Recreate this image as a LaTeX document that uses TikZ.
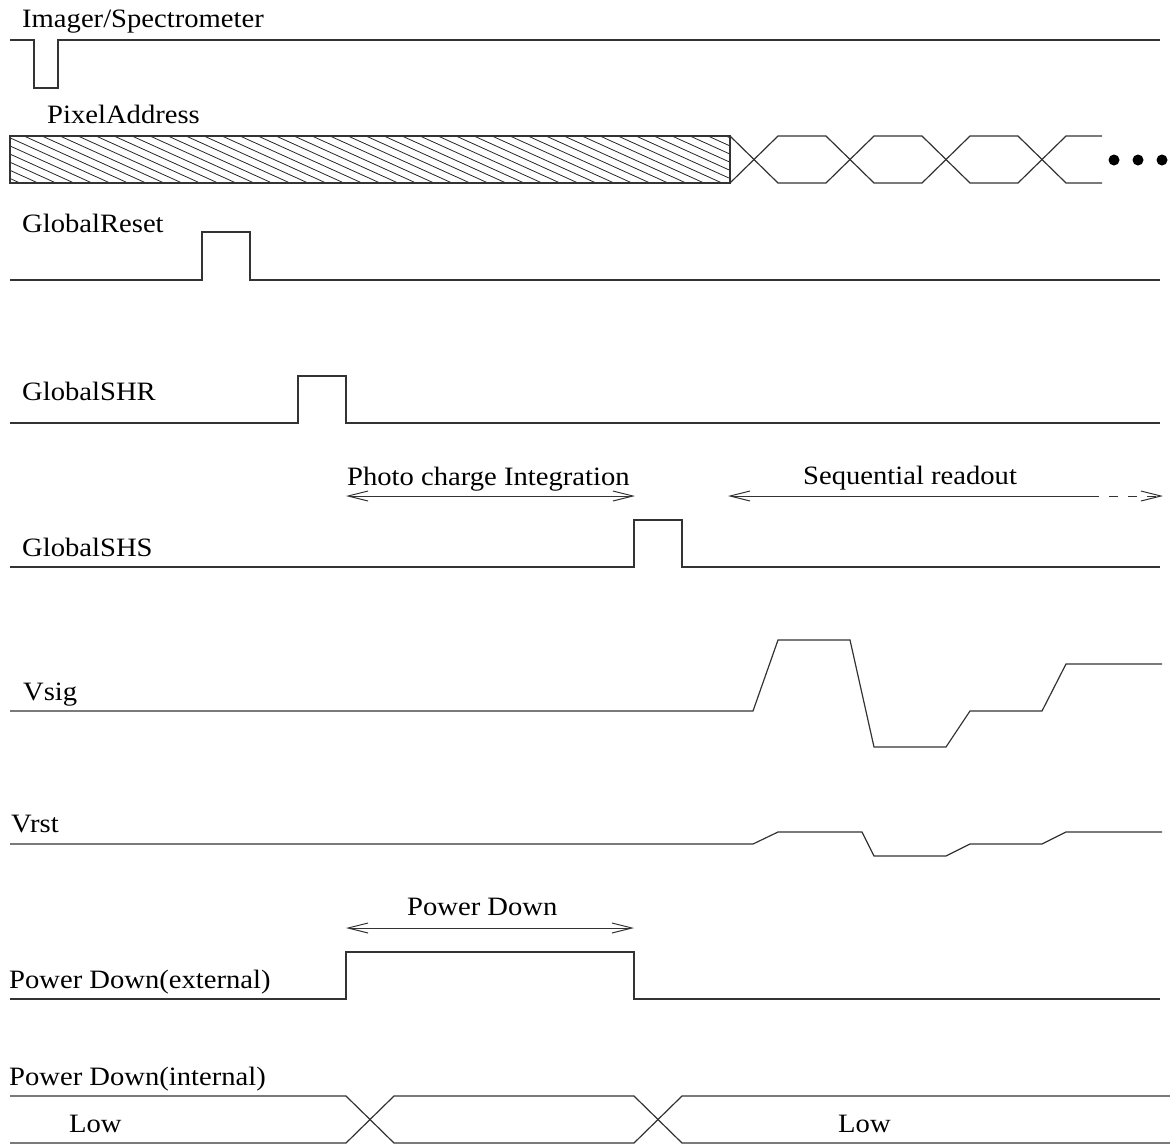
\documentclass[tikz,border=0pt]{standalone}
\usepackage{fontspec}
\setmainfont{Liberation Serif}[FakeStretch=1.08]
\usetikzlibrary{arrows.meta}
\begin{document}
\begin{tikzpicture}[x=1pt,y=-1pt,
  wave/.style={line width=1.2pt, black!80, line join=miter},
  hatchline/.style={line width=0.8pt, black!85},
  lbl/.style={anchor=base west, inner sep=0pt, font=\fontsize{26.5}{30}\selectfont},
  barb/.tip={Straight Barb[length=20pt,width=10pt]},
  span/.style={line width=1pt, black!80, barb-barb},
]
\useasboundingbox (0,0) rectangle (1170,1144);

% ---- signal names ----
\node[lbl] (lImg)  at (22,27)   {Imager/Spectrometer};
\node[lbl] (lPix)  at (47,123)  {PixelAddress};
\node[lbl] (lRst)  at (22,232)  {GlobalReset};
\node[lbl] (lShr)  at (22,400)  {GlobalSHR};
\node[lbl] (lShs)  at (22,556)  {GlobalSHS};
\node[lbl] (lSig)  at (23,700)  {Vsig};
\node[lbl] (lVr)   at (11,832)  {Vrst};
\node[lbl] (lPde)  at (9,988)   {Power Down(external)};
\node[lbl] (lPdi)  at (9,1085)  {Power Down(internal)};

% ---- Imager/Spectrometer ----
\draw[wave] (10,40) -- (34,40) -- (34,88) -- (58,88) -- (58,40) -- (1160,40);

% ---- PixelAddress: hatched idle block, then changing address bus ----
\begin{scope}
  \clip (10,136) rectangle (730,183);
  \foreach \x in {-120,-102,...,740}
    \draw[hatchline] (\x,136) -- ({\x+104},183);
\end{scope}
\draw[wave] (10,136) rectangle (730,183);
\draw[wave] (730,136) -- (778,183) -- (826,183) -- (874,136) -- (922,136)
  -- (970,183) -- (1018,183) -- (1066,136) -- (1102,136);
\draw[wave] (730,183) -- (778,136) -- (826,136) -- (874,183) -- (922,183)
  -- (970,136) -- (1018,136) -- (1066,183) -- (1102,183);
\foreach \x in {1114,1138,1162}
  \fill[black] (\x,160) circle (5.5pt);

% ---- GlobalReset / GlobalSHR / GlobalSHS pulses ----
\draw[wave] (10,280) -- (202,280) -- (202,232) -- (250,232) -- (250,280) -- (1160,280);
\draw[wave] (10,423) -- (298,423) -- (298,376) -- (346,376) -- (346,423) -- (1160,423);
\draw[wave] (10,567) -- (634,567) -- (634,520) -- (682,520) -- (682,567) -- (1160,567);

% ---- phase markers ----
\coordinate (intL) at (346,496);
\coordinate (intR) at (635,496);
\draw[span] (intL) -- (intR);
\node[lbl] (tInt) at (347,485) {Photo charge Integration};

\coordinate (seqL) at (728,496);
\coordinate (seqM) at (1099,496);
\coordinate (seqD) at (1109,496);
\coordinate (seqR) at (1163,496);
\draw[line width=1pt, black!80, barb-] (seqL) -- (seqM);
\draw[line width=1pt, black!80, dash pattern=on 9pt off 10pt, -barb] (seqD) -- (seqR);
\node[lbl] (tSeq) at (803,484) {Sequential readout};

% ---- Vsig / Vrst ----
\draw[wave] (10,711) -- (753,711) -- (778,640) -- (850,640) -- (874,747) -- (946,747)
  -- (970,711) -- (1042,711) -- (1066,664) -- (1162,664);
\draw[wave] (10,844) -- (753,844) -- (778,832) -- (862,832) -- (874,856) -- (946,856)
  -- (970,844) -- (1042,844) -- (1066,832) -- (1162,832);

% ---- Power Down (external) ----
\coordinate (pdL) at (346,928);
\coordinate (pdR) at (634,928);
\draw[span] (pdL) -- (pdR);
\node[lbl] (tPd) at (407,915) {Power Down};
\draw[wave] (10,999) -- (346,999) -- (346,952) -- (634,952) -- (634,999) -- (1160,999);

% ---- Power Down (internal) ----
\draw[wave] (10,1096) -- (346,1096) -- (394,1143) -- (634,1143) -- (682,1096) -- (1170,1096);
\draw[wave] (10,1143) -- (346,1143) -- (394,1096) -- (634,1096) -- (682,1143) -- (1170,1143);
\node[lbl] (tLow1) at (69,1132)  {Low};
\node[lbl] (tLow2) at (838,1132) {Low};
\end{tikzpicture}
\end{document}
